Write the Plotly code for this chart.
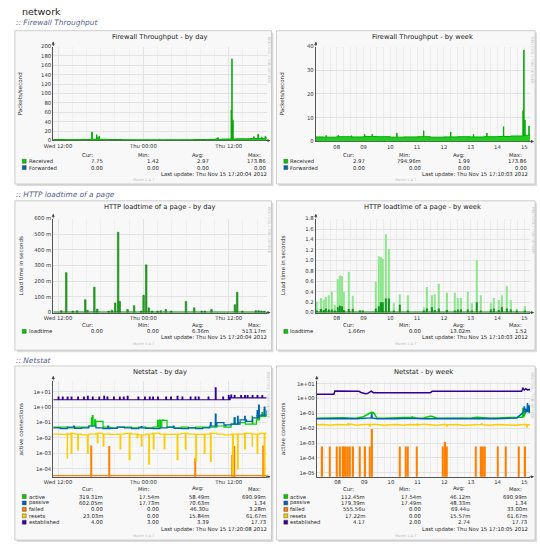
import numpy as np
import plotly.graph_objects as go

W, H = 540, 547
FONT = "DejaVu Sans"

# time spans: day view in hours counted from Wed 00:00, week view in days of November
DAY_SPAN = [11.33, 41.33]
WEEK_SPAN = [7.72, 15.72]

# ---------------- Firewall Throughput (packets/second) ----------------
fw_day_t = [11.33, 13, 15, 17, 19, 21, 23, 25, 27, 29, 31, 33, 35, 37, 39, 41.33]
fw_day_v = [2.0, 1.8, 2.2, 2.5, 2.0, 1.6, 1.5, 1.4, 1.5, 1.6, 2.0, 2.4, 3.0, 3.5, 4.0, 7.75]
fw_day_spike_t = [16.74, 17.40, 17.55, 17.75, 26.2, 34.2, 34.45, 36.35, 36.45, 36.55, 38.6, 39.5, 40.1, 40.6, 41.1]
fw_day_spike_v = [18, 12, 6, 9, 2.5, 4, 6, 65, 173.86, 43, 3, 8, 13, 7, 9]

fw_week_t = [7.72, 8.0, 8.5, 9.0, 9.5, 10.0, 10.5, 11.0, 11.5, 12.0, 12.5, 13.0, 13.5, 14.0, 14.5, 15.0, 15.5, 15.72]
fw_week_v = [1.9, 1.8, 2.0, 1.9, 2.1, 2.0, 1.8, 1.9, 2.0, 1.8, 1.9, 2.0, 1.9, 2.0, 2.1, 2.3, 2.6, 2.97]
fw_week_spike_t = [8.1, 8.55, 9.05, 9.54, 9.82, 10.74, 11.74, 12.75, 13.6, 14.1, 14.72, 15.45, 15.48, 15.52, 15.67]
fw_week_spike_v = [2.5, 2.6, 2.4, 3.0, 3.0, 3.5, 4.5, 4.0, 3.0, 3.5, 6.2, 13.0, 38.5, 9.0, 6.5]

# ---------------- HTTP loadtime of a page (seconds) ----------------
http_day_t = [12.47, 13.16, 14.08, 14.67, 15.83, 16.14, 17.11, 17.52, 19.13, 19.58,
              20.04, 20.45, 20.68, 21.78, 22.7, 23.71, 24.03, 24.4, 24.77, 25.22,
              26.0, 26.46, 27.15, 27.93, 29.99, 31.14, 32.2, 32.65, 33.57, 36.87,
              37.19, 37.92, 39.8, 40.2, 40.6, 41.0]
http_day_v = [0.012, 0.255, 0.01, 0.012, 0.082, 0.015, 0.162, 0.022, 0.01, 0.015,
              0.061, 0.513, 0.071, 0.02, 0.044, 0.01, 0.11, 0.305, 0.03, 0.01,
              0.01, 0.012, 0.02, 0.01, 0.07, 0.03, 0.01, 0.01, 0.02, 0.05,
              0.13, 0.01, 0.012, 0.012, 0.01, 0.008]
http_day_floor = [0.0, 0.0]

http_week_t = [7.75, 7.93, 8.01, 8.11, 8.20, 8.32, 8.44, 8.54, 8.63, 8.71,
               8.78, 8.96, 9.11, 9.38, 9.48, 9.97, 10.07, 10.17, 10.22, 10.34,
               10.46, 10.64, 10.85, 11.17, 11.76, 11.88, 12.07, 12.17, 12.30, 12.63,
               12.91, 13.03, 13.15, 13.40, 13.56, 13.73, 13.89, 14.25, 14.37, 14.56,
               14.68, 14.84, 14.99, 15.23, 15.54]
http_week_max = [0.21, 0.28, 0.25, 0.30, 0.33, 0.40, 0.15, 0.64, 0.71, 0.70,
                 0.40, 0.78, 0.32, 0.05, 0.05, 0.59, 1.08, 1.06, 1.03, 1.50,
                 1.22, 0.18, 0.35, 0.33, 0.10, 0.49, 0.33, 0.35, 0.55, 0.38,
                 0.38, 0.28, 0.28, 0.40, 0.18, 1.00, 0.33, 0.18, 0.28, 0.24,
                 0.33, 0.51, 0.24, 0.08, 0.12]
http_week_avg = [0.03, 0.07, 0.05, 0.08, 0.06, 0.06, 0.03, 0.10, 0.13, 0.12,
                 0.05, 0.07, 0.07, 0.02, 0.02, 0.08, 0.12, 0.20, 0.20, 0.27,
                 0.27, 0.03, 0.15, 0.04, 0.02, 0.08, 0.10, 0.05, 0.08, 0.05,
                 0.03, 0.06, 0.06, 0.06, 0.03, 0.20, 0.04, 0.06, 0.08, 0.05,
                 0.10, 0.08, 0.06, 0.02, 0.03]
http_week_floor = [0.0, 0.0]

# ---------------- Netstat (active connections, log scale) ----------------
nd_t = np.arange(DAY_SPAN[0], DAY_SPAN[1] + 0.01, 1.0)
active_day = [0.05, 0.05, 0.045, 0.05, 0.05, 0.06, 0.12, 0.05, 0.045, 0.05,
              0.05, 0.045, 0.05, 0.045, 0.05, 0.14, 0.05, 0.045, 0.05, 0.045,
              0.05, 0.05, 0.05, 0.06, 0.05, 0.08, 0.1, 0.08, 0.15, 0.25, 0.32]
active_day_spk_t = [16.69, 16.83, 17.15, 17.52, 26.00, 26.3, 26.69, 34.12, 36.78, 39.30, 39.99, 40.67, 40.99]
active_day_spk_v = [0.2, 0.28, 0.15, 0.12, 0.14, 0.15, 0.15, 0.1, 0.2, 0.25, 0.3, 0.45, 0.69]
passive_day = [0.045, 0.04, 0.05, 0.042, 0.045, 0.06, 0.045, 0.04, 0.042, 0.05,
               0.045, 0.04, 0.045, 0.042, 0.04, 0.045, 0.05, 0.042, 0.04, 0.045,
               0.04, 0.045, 0.06, 0.1, 0.07, 0.08, 0.15, 0.12, 0.2, 0.3, 0.6]
passive_day_spk_t = [14.2, 19.0, 23.7, 28.2, 33.43, 34.12, 35.5, 36.78, 37.23, 37.69, 38.24, 38.61, 39.99, 40.2, 40.67, 40.99]
passive_day_spk_v = [0.06, 0.06, 0.055, 0.06, 0.1, 0.35, 0.06, 0.2, 0.25, 0.15, 0.25, 0.12, 0.6, 1.34, 0.3, 1.0]
resets_day = [0.018, 0.017, 0.02, 0.018, 0.016, 0.018, 0.02, 0.018, 0.017, 0.018,
              0.02, 0.018, 0.016, 0.018, 0.02, 0.018, 0.017, 0.018, 0.02, 0.018,
              0.017, 0.018, 0.02, 0.018, 0.016, 0.018, 0.02, 0.018, 0.017, 0.02, 0.023]
resets_day_spk_t = [13.30, 13.85, 14.77, 16.14, 17.52, 18.35, 20.73, 22.01, 23.11, 23.71,
                    24.76, 25.40, 26.92, 28.75, 29.90, 31.37, 32.56, 33.43, 36.55, 37.23,
                    38.24, 39.30, 39.99, 40.99]
resets_day_spk_v = [5e-4, 1e-3, 1.7e-3, 1e-3, 5e-3, 3e-3, 2e-3, 4e-4, 0.01, 3e-3,
                    2e-4, 2e-3, 2e-3, 4e-4, 2e-3, 3e-4, 1e-3, 3e-4, 0, 1e-4,
                    2e-3, 3e-3, 1e-3, 0]
failed_day_t = [16.69, 19.22, 31.30, 36.55, 36.78, 40.80]
failed_day_v = [3.3e-3, 3.0e-3, 5e-4, 8e-4, 3e-3, 3.3e-3]
est_day_t = [11.33, 35.9, 36.2, 41.33]
est_day_v = [3.0, 3.0, 4.0, 4.0]
est_day_spk_t = [12.02, 12.61, 13.30, 13.85, 14.77, 15.59, 16.14, 16.83, 17.75, 18.44,
                 18.90, 19.81, 20.64, 21.19, 21.74, 23.25, 24.17, 24.85, 25.31, 26.00,
                 27.15, 27.84, 28.75, 29.44, 30.59, 31.27, 31.73, 33.11, 34.12, 35.17,
                 35.95, 36.3, 36.78, 37.69, 38.24, 38.61, 39.30, 39.99, 40.67]
est_day_spk_v = [4.5, 4.5, 4.5, 4.5, 4.5, 4.5, 5.0, 4.5, 4.5, 5.0,
                 4.5, 4.5, 4.5, 4.5, 5.0, 4.5, 4.5, 4.5, 4.5, 4.5,
                 4.5, 4.5, 5.0, 4.5, 4.5, 4.5, 4.5, 4.5, 17.73, 4.5,
                 5.5, 6.0, 5.5, 5.5, 5.5, 5.5, 5.5, 5.5, 5.5]

nw_t = np.arange(WEEK_SPAN[0], WEEK_SPAN[1] + 0.01, 0.25)
active_week = [0.048, 0.05, 0.047, 0.05, 0.052, 0.048, 0.05, 0.06, 0.12, 0.05,
               0.048, 0.05, 0.047, 0.05, 0.055, 0.048, 0.05, 0.065, 0.05, 0.048,
               0.05, 0.047, 0.05, 0.048, 0.055, 0.05, 0.048, 0.05, 0.052, 0.05,
               0.055, 0.15, 0.11]
active_week_spk_t = [9.75, 9.82, 11.3, 12.0, 15.45, 15.6]
active_week_spk_v = [0.13, 0.1, 0.06, 0.07, 0.25, 0.2]
passive_week = [0.044, 0.045, 0.043, 0.046, 0.044, 0.045, 0.043, 0.046, 0.05, 0.044,
                0.043, 0.045, 0.044, 0.046, 0.043, 0.045, 0.044, 0.045, 0.043, 0.046,
                0.044, 0.045, 0.043, 0.044, 0.046, 0.044, 0.045, 0.043, 0.045, 0.044,
                0.05, 0.12, 0.18]
passive_week_spk_t = [9.78, 15.5, 15.56, 15.62, 15.68]
passive_week_spk_v = [0.1, 0.3, 0.2, 0.5, 0.35]
resets_week = [0.017, 0.018, 0.016, 0.018, 0.017, 0.019, 0.016, 0.018, 0.017, 0.018,
               0.016, 0.017, 0.018, 0.016, 0.018, 0.017, 0.019, 0.017, 0.016, 0.018,
               0.017, 0.018, 0.016, 0.017, 0.018, 0.017, 0.016, 0.018, 0.017, 0.018,
               0.016, 0.018, 0.017]
resets_week_spk_t = [8.9, 9.7, 11.5, 12.6, 13.9, 15.6]
resets_week_spk_v = [0.022, 0.013, 0.021, 0.013, 0.022, 0.011]
failed_week_t = [7.93, 8.20, 8.48, 8.60, 8.69, 8.75, 8.81, 8.87, 8.97, 9.09,
                 9.34, 9.54, 9.70, 9.80, 10.82, 11.07, 11.13, 11.47, 12.45, 12.54,
                 12.60, 13.67, 13.89, 13.96, 14.01, 14.50, 14.81, 15.30, 15.54]
failed_week_v = [6e-4, 6e-4, 6e-4, 6e-4, 6e-4, 6e-4, 6e-4, 6e-4, 6e-4, 6e-4,
                 6e-4, 6e-4, 6e-4, 9e-3, 6e-4, 6e-4, 6e-4, 6e-4, 6e-4, 1.2e-3,
                 6e-4, 6e-4, 6e-4, 6e-4, 6e-4, 6e-4, 6e-4, 6e-4, 6e-4]
est_week_t = [7.72, 8.36, 8.40, 9.30, 9.38, 9.46, 9.54, 9.62, 9.70, 9.76,
              9.84, 11.98, 12.04, 15.40, 15.45, 15.50, 15.56, 15.62, 15.72]
est_week_v = [2.0, 2.0, 3.2, 3.1, 2.6, 2.2, 2.1, 2.2, 2.8, 3.2,
              2.5, 2.5, 3.1, 3.1, 5.0, 3.8, 4.6, 3.9, 4.17]

# ---------------- axis ticks ----------------
day_tickvals = [12, 24, 36]
day_ticktext = ["Wed 12:00", "Thu 00:00", "Thu 12:00"]
week_tickvals = [8.5, 9.5, 10.5, 11.5, 12.5, 13.5, 14.5, 15.5]
week_ticktext = ["08", "09", "10", "11", "12", "13", "14", "15"]
fw_day_yticks = [0, 20, 40, 60, 80, 100, 120, 140, 160, 180, 200]
fw_week_yticks = [0, 10, 20, 30, 40]
http_day_yticks = [0, 0.1, 0.2, 0.3, 0.4, 0.5, 0.6]
http_day_ylabels = ["0", "100 m", "200 m", "300 m", "400 m", "500 m", "600 m"]
http_week_yticks = [0, 0.2, 0.4, 0.6, 0.8, 1.0, 1.2, 1.4, 1.6, 1.8]
http_week_ylabels = ["0.0", "0.2", "0.4", "0.6", "0.8", "1.0", "1.2", "1.4", "1.6", "1.8"]
log_yticks = [1e1, 1e0, 1e-1, 1e-2, 1e-3, 1e-4, 1e-5]
log_ylabels = ["1e+01", "1e+00", "1e-01", "1e-02", "1e-03", "1e-04", "1e-05"]

# ---------------- legend texts ----------------
fw_names = ["Received", "Forwarded"]
fw_colors = ["#00cc00", "#0066b3"]
fw_day_received = ["7.75", "1.42", "2.97", "173.86"]
fw_day_forwarded = ["0.00", "0.00", "0.00", "0.00"]
fw_week_received = ["2.97", "794.96m", "1.99", "173.86"]
fw_week_forwarded = ["0.00", "0.00", "0.00", "0.00"]
http_names = ["loadtime"]
http_colors = ["#00cc00"]
http_day_loadtime = ["0.00", "0.00", "6.36m", "513.17m"]
http_week_loadtime = ["1.66m", "0.00", "13.02m", "1.52"]
ns_names = ["active", "passive", "failed", "resets", "established"]
ns_colors = ["#00cc00", "#0066b3", "#ff8000", "#ffcc00", "#330099"]
ns_day_stats = [["319.31m", "17.54m", "58.49m", "690.99m"],
                ["602.05m", "17.73m", "70.63m", "1.34"],
                ["0.00", "0.00", "46.30u", "3.28m"],
                ["23.03m", "0.00", "15.84m", "61.67m"],
                ["4.00", "3.00", "3.39", "17.73"]]
ns_week_stats = [["112.45m", "17.54m", "46.12m", "690.99m"],
                 ["179.39m", "17.49m", "48.33m", "1.34"],
                 ["555.56u", "0.00", "69.44u", "33.00m"],
                 ["17.22m", "0.00", "15.57m", "61.67m"],
                 ["4.17", "2.00", "2.74", "17.73"]]


def X(p):
    return p / W


def Y(p):
    return 1 - p / H


def spiky(bt, bv, st, sv, w):
    # baseline points plus narrow spikes
    bt = list(bt)
    pts = list(zip(bt, bv))
    for t, v in zip(st, sv):
        i = max(int(np.searchsorted(bt, t, side="right")) - 1, 0)
        pts += [(t - w, bv[i]), (t, v), (t + w, bv[i])]
    pts.sort(key=lambda p: p[0])
    return [p[0] for p in pts], [p[1] for p in pts]


def logsafe(vals):
    return [max(v, 1e-9) for v in vals]


def refs(k):
    return ("x" if k == 1 else f"x{k}"), ("y" if k == 1 else f"y{k}")


fig = go.Figure()
annots = []
shapes = []

# ---- panel 1: firewall by day
x, y = spiky(fw_day_t, fw_day_v, fw_day_spike_t, fw_day_spike_v, 0.08)
fig.add_trace(go.Scatter(x=x, y=y, mode="lines", line=dict(color="#00aa00", width=1, shape="hv"),
                         fill="tozeroy", fillcolor="#22cc22", xaxis="x", yaxis="y"))
# ---- panel 2: firewall by week
x, y = spiky(fw_week_t, fw_week_v, fw_week_spike_t, fw_week_spike_v, 0.012)
fig.add_trace(go.Scatter(x=x, y=y, mode="lines", line=dict(color="#00aa00", width=1, shape="hv"),
                         fill="tozeroy", fillcolor="#22cc22", xaxis="x2", yaxis="y2"))
# ---- panel 3: http by day
fig.add_trace(go.Bar(x=http_day_t, y=http_day_v, width=0.22,
                     marker=dict(color="#22b022", line=dict(color="#006600", width=0.5)),
                     xaxis="x3", yaxis="y3"))
fig.add_trace(go.Scatter(x=DAY_SPAN, y=http_day_floor, mode="lines",
                         line=dict(color="#008800", width=2), xaxis="x3", yaxis="y3"))
# ---- panel 4: http by week
fig.add_trace(go.Bar(x=http_week_t, y=http_week_max, width=0.05, marker=dict(color="#8fe68f", line=dict(width=0)),
                     xaxis="x4", yaxis="y4"))
fig.add_trace(go.Bar(x=http_week_t, y=http_week_avg, width=0.05, marker=dict(color="#11991f", line=dict(width=0)),
                     xaxis="x4", yaxis="y4"))
fig.add_trace(go.Scatter(x=WEEK_SPAN, y=http_week_floor, mode="lines",
                         line=dict(color="#008800", width=2), xaxis="x4", yaxis="y4"))

# ---- panel 5: netstat by day
fig.add_trace(go.Bar(x=failed_day_t, y=failed_day_v, width=0.15, marker=dict(color="#ff8000", line=dict(width=0)),
                     xaxis="x5", yaxis="y5"))
for bt, bv, st, sv, col in [
    (nd_t, active_day, active_day_spk_t, active_day_spk_v, "#00cc00"),
    (nd_t, passive_day, passive_day_spk_t, passive_day_spk_v, "#0066b3"),
    (nd_t, resets_day, resets_day_spk_t, resets_day_spk_v, "#ffcc00"),
    (est_day_t, est_day_v, est_day_spk_t, est_day_spk_v, "#330099"),
]:
    x, y = spiky(bt, bv, st, sv, 0.1)
    fig.add_trace(go.Scatter(x=x, y=logsafe(y), mode="lines", line=dict(color=col, width=1.2, shape="hv"),
                             xaxis="x5", yaxis="y5"))

# ---- panel 6: netstat by week
fig.add_trace(go.Bar(x=failed_week_t, y=failed_week_v, width=0.05, marker=dict(color="#ff8000", line=dict(width=0)),
                     xaxis="x6", yaxis="y6"))
for bt, bv, st, sv, col in [
    (nw_t, active_week, active_week_spk_t, active_week_spk_v, "#00cc00"),
    (nw_t, passive_week, passive_week_spk_t, passive_week_spk_v, "#0066b3"),
    (nw_t, resets_week, resets_week_spk_t, resets_week_spk_v, "#ffcc00"),
    (est_week_t, est_week_v, [], [], "#330099"),
]:
    x, y = spiky(bt, bv, st, sv, 0.02)
    fig.add_trace(go.Scatter(x=x, y=logsafe(y), mode="lines", line=dict(color=col, width=1.5),
                             xaxis="x6", yaxis="y6"))


# ---------------- page furniture ----------------
def txt(x, y, s, size=5.3, color="#222", xanchor="left", angle=0, family=FONT):
    annots.append(dict(x=X(x), y=Y(y), xref="paper", yref="paper", text=s, showarrow=False,
                       xanchor=xanchor, yanchor="middle", textangle=angle, borderpad=0,
                       font=dict(family=family, size=size, color=color)))


def arrow(x, y, ax, ay):
    annots.append(dict(x=X(x), y=Y(y), xref="paper", yref="paper", text="", showarrow=True,
                       ax=ax, ay=ay, arrowhead=2, arrowsize=0.8, arrowwidth=0.8,
                       arrowcolor="#444", standoff=0))


def rect(x0, y0, x1, y1, fill, line="rgba(0,0,0,0)", lw=0, layer="below"):
    shapes.append(dict(type="rect", xref="paper", yref="paper", x0=X(x0), x1=X(x1), y0=Y(y1), y1=Y(y0),
                       fillcolor=fill, line=dict(color=line, width=lw), layer=layer))


txt(12, 9, "network", size=9.5, color="#222", family="DejaVu Sans")
for sy, s in [(20, "Firewall Throughput"), (194, "HTTP loadtime of a page"), (361, "Netstat")]:
    txt(6, sy, "<i>:: " + s + "</i>", size=7.4, color="#55608f")

row_y = {1: dict(head=154, first=160, last=173, munin=179, step=6.4),
         2: dict(head=326, first=332, last=338.5, munin=345, step=6.4),
         3: dict(head=491, first=499, last=532, munin=539, step=6.5)}

panels = [
    dict(k=1, row=1, box=(6, 267, 28, 183), plot=(45, 262, 44, 139), title="Firewall Throughput - by day",
         ylab="Packets/second", xr=DAY_SPAN, xt=(day_tickvals, day_ticktext), yr=[0, 200],
         yt=(fw_day_yticks, [str(v) for v in fw_day_yticks]), log=False, day=True,
         names=fw_names, colors=fw_colors, stats=[fw_day_received, fw_day_forwarded],
         upd="Thu Nov 15 17:20:04 2012"),
    dict(k=2, row=1, box=(272, 535, 28, 183), plot=(312, 530, 44, 140), title="Firewall Throughput - by week",
         ylab="Packets/second", xr=WEEK_SPAN, xt=(week_tickvals, week_ticktext), yr=[0, 40],
         yt=(fw_week_yticks, [str(v) for v in fw_week_yticks]), log=False, day=False,
         names=fw_names, colors=fw_colors, stats=[fw_week_received, fw_week_forwarded],
         upd="Thu Nov 15 17:10:03 2012"),
    dict(k=3, row=2, box=(6, 267, 200, 351), plot=(45, 262, 218, 313), title="HTTP loadtime of a page - by day",
         ylab="Load time in seconds", xr=DAY_SPAN, xt=(day_tickvals, day_ticktext), yr=[0, 0.6],
         yt=(http_day_yticks, http_day_ylabels), log=False, day=True,
         names=http_names, colors=http_colors, stats=[http_day_loadtime],
         upd="Thu Nov 15 17:20:04 2012"),
    dict(k=4, row=2, box=(272, 535, 200, 351), plot=(312, 530, 218, 313), title="HTTP loadtime of a page - by week",
         ylab="Load time in seconds", xr=WEEK_SPAN, xt=(week_tickvals, week_ticktext), yr=[0, 1.8],
         yt=(http_week_yticks, http_week_ylabels), log=False, day=False,
         names=http_names, colors=http_colors, stats=[http_week_loadtime],
         upd="Thu Nov 15 17:10:03 2012"),
    dict(k=5, row=3, box=(6, 267, 367, 543), plot=(45, 262, 382, 479), title="Netstat - by day",
         ylab="active connections", xr=DAY_SPAN, xt=(day_tickvals, day_ticktext), yr=[-4.51, 1.705],
         yt=(log_yticks[:6], log_ylabels[:6]), log=True, day=True,
         names=ns_names, colors=ns_colors, stats=ns_day_stats,
         upd="Thu Nov 15 17:20:08 2012"),
    dict(k=6, row=3, box=(272, 535, 367, 543), plot=(313, 530, 382, 479), title="Netstat - by week",
         ylab="active connections", xr=WEEK_SPAN, xt=(week_tickvals, week_ticktext), yr=[-5.27, 1.2],
         yt=(log_yticks, log_ylabels), log=True, day=False,
         names=ns_names, colors=ns_colors, stats=ns_week_stats,
         upd="Thu Nov 15 17:10:05 2012"),
]

head_cols = [("Cur:", 80), ("Min:", 137), ("Avg:", 193), ("Max:", 251)]
val_cols = [91, 148, 198, 256]
tickfont = dict(family=FONT, size=5.3, color="#333")
lay = {}

for p in panels:
    k = p["k"]
    bx0, bx1, by0, by1 = p["box"]
    px0, px1, pyt, pyb = p["plot"]
    xr_, yr_ = refs(k)
    ry = row_y[p["row"]]

    # panel frame with a soft shadow
    rect(bx0 + 2, by0 + 2, bx1 + 2, by1 + 2, "#dcdcdc")
    rect(bx0, by0, bx1, by1, "#f8f8f8", "#c2c2c2", 0.8)

    txt((px0 + px1) / 2, by0 + 6.5, p["title"], size=6.7, color="#222", xanchor="center")
    txt(bx0 + 6, (pyt + pyb) / 2, p["ylab"], size=5.6, color="#333", xanchor="center", angle=-90)
    txt(bx1 - 3, by0 + 30, "RRDTOOL / TOBI OETIKER", size=3.6, color="#c4c4c4", xanchor="center", angle=90)
    txt((bx0 + bx1) / 2, ry["munin"], "Munin 1.4.7", size=3.6, color="#b8b8b8", xanchor="center")
    arrow(px0, pyt - 5, 0, 6)
    arrow(px1 + 4, pyb, -6, 0)

    # legend block
    for h, cx in head_cols:
        txt(bx0 + cx, ry["head"], h, xanchor="right")
    for j, (name, col, vals) in enumerate(zip(p["names"], p["colors"], p["stats"])):
        yy = ry["first"] + j * ry["step"]
        rect(bx0 + 7.5, yy - 2, bx0 + 11.5, yy + 2, col, "#333", 0.4, layer="above")
        txt(bx0 + 13, yy, name)
        for cx, v in zip(val_cols, vals):
            txt(bx0 + cx, yy, v, xanchor="right")
    txt(bx0 + 257, ry["last"], "Last update: " + p["upd"], xanchor="right")

    if p["day"]:
        xminor = dict(tickmode="linear", tick0=0, dtick=2, showgrid=True, gridcolor="#efefef", gridwidth=0.6, ticks="")
        xgrid = True
    else:
        xminor = dict(tickmode="linear", tick0=0, dtick=0.25, showgrid=True, gridcolor="#ececec", gridwidth=0.6, ticks="")
        xgrid = False
    lay["xaxis" if k == 1 else f"xaxis{k}"] = dict(
        domain=[X(px0), X(px1)], anchor=yr_, range=p["xr"], tickmode="array",
        tickvals=p["xt"][0], ticktext=p["xt"][1], showgrid=xgrid, gridcolor="#e2e2e2", gridwidth=0.6,
        minor=xminor, zeroline=False, showline=True, linecolor="#555", linewidth=1, ticks="",
        tickfont=tickfont, fixedrange=True, layer="below traces")
    lay["yaxis" if k == 1 else f"yaxis{k}"] = dict(
        domain=[Y(pyb), Y(pyt)], anchor=xr_, type="log" if p["log"] else "linear", range=p["yr"],
        tickmode="array", tickvals=p["yt"][0], ticktext=p["yt"][1], showgrid=True,
        gridcolor="#e2e2e2", gridwidth=0.6, zeroline=False, showline=True, linecolor="#555",
        linewidth=1, ticks="", tickfont=tickfont, fixedrange=True, layer="below traces")

# failed connections sit at zero for most of the day: rrdtool draws that along the floor
shapes.append(dict(type="line", xref="x5 domain", yref="y5 domain", x0=0, x1=1, y0=0.012, y1=0.012,
                   line=dict(color="#ff8000", width=1.4), layer="above"))

fig.update_layout(lay)
fig.update_layout(width=W, height=H, margin=dict(l=0, r=0, t=0, b=0),
                  paper_bgcolor="white", plot_bgcolor="white", showlegend=False,
                  barmode="overlay", annotations=annots, shapes=shapes,
                  font=dict(family=FONT))

# the page is photographed at exactly the figure size, so drop the browser's default body margin
fig.write_html("out.html", config={"displayModeBar": False},
               post_script="document.body.style.margin='0';document.body.style.overflow='hidden';")
